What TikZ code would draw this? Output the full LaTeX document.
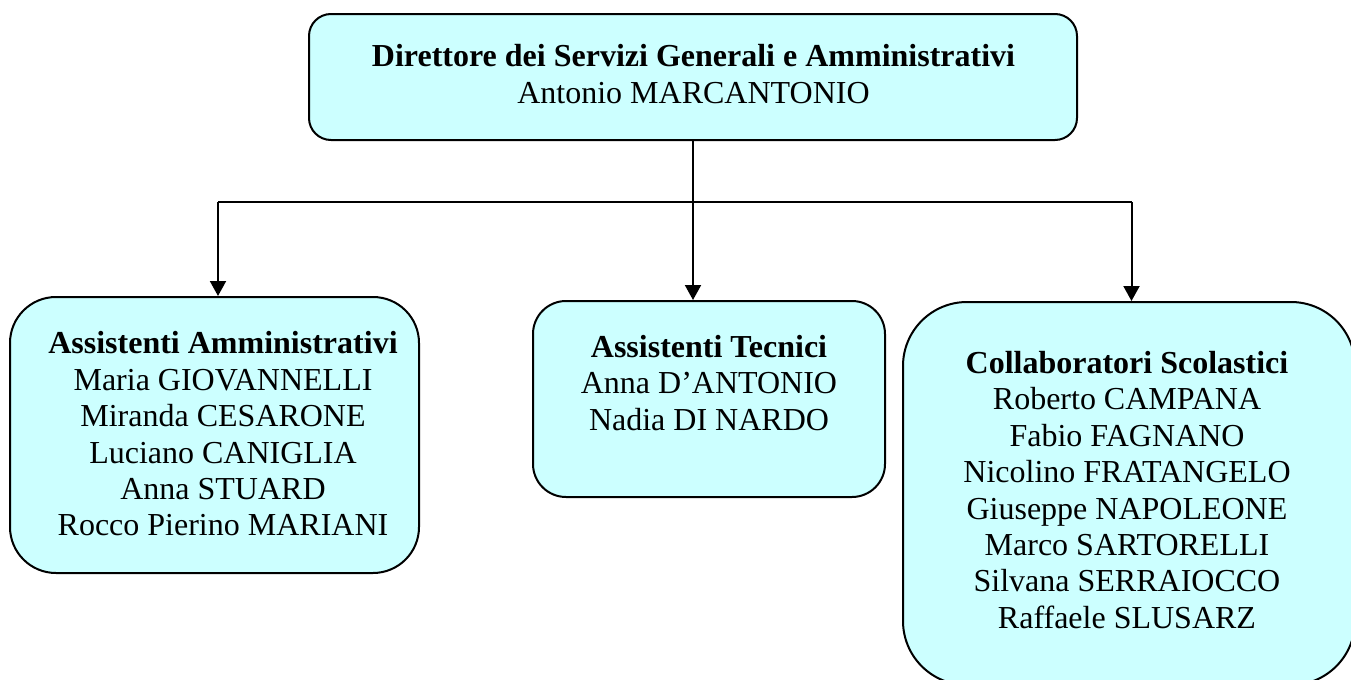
\documentclass[tikz,border=0pt]{standalone}
\usepackage{fontspec}
\setmainfont{Liberation Serif}
\usetikzlibrary{arrows.meta}
\definecolor{boxfill}{HTML}{CCFFFF}
\begin{document}
\begin{tikzpicture}[x=0.5pt,y=-0.5pt,
  box/.style={draw=black, line width=1pt, fill=boxfill, rectangle, inner sep=0pt},
  txt/.style={align=center, font=\fontsize{16}{18.2}\selectfont, inner sep=0pt},
  conn/.style={line width=1pt},
  arr/.style={conn, -{Triangle[length=7.5pt,width=8pt]}}]
\useasboundingbox (0,0) rectangle (1351,680);
\clip (0,0) rectangle (1351,680);
% boxes
\node[box, minimum width=384pt, minimum height=63pt, rounded corners=11pt] (top) at (693,77) {};
\node[box, minimum width=204.5pt, minimum height=138pt, rounded corners=23pt] (left) at (214.5,435) {};
\node[box, minimum width=176pt, minimum height=98pt, rounded corners=16.5pt] (mid) at (709,399) {};
\node[box, minimum width=226pt, minimum height=191.5pt, rounded corners=32pt] (right) at (1129,493.5) {};
% texts
\node[txt] (ttop) at (693.5,74) {\textbf{Direttore dei Servizi Generali e Amministrativi}\\Antonio MARCANTONIO};
\node[txt] (tleft) at (223,434) {\textbf{Assistenti Amministrativi}\\Maria GIOVANNELLI\\Miranda CESARONE\\Luciano CANIGLIA\\Anna STUARD\\Rocco Pierino MARIANI};
\node[txt] (tmid) at (709,383) {\textbf{Assistenti Tecnici}\\Anna D’ANTONIO\\Nadia DI NARDO};
\node[txt] (tright) at (1127,490) {\textbf{Collaboratori Scolastici}\\Roberto CAMPANA\\Fabio FAGNANO\\Nicolino FRATANGELO\\Giuseppe NAPOLEONE\\Marco SARTORELLI\\Silvana SERRAIOCCO\\Raffaele SLUSARZ};
% connectors
\coordinate (jl) at (218,202);
\coordinate (jm) at (693,202);
\coordinate (jr) at (1131.5,202);
\draw[conn] (top.south) -- (jm);
\draw[conn] (jl) -- (jr);
\draw[arr] (jl) -- (jl |- left.north);
\draw[arr] (jm) -- (jm |- mid.north);
\draw[arr] (jr) -- (jr |- right.north);
\end{tikzpicture}
\end{document}
